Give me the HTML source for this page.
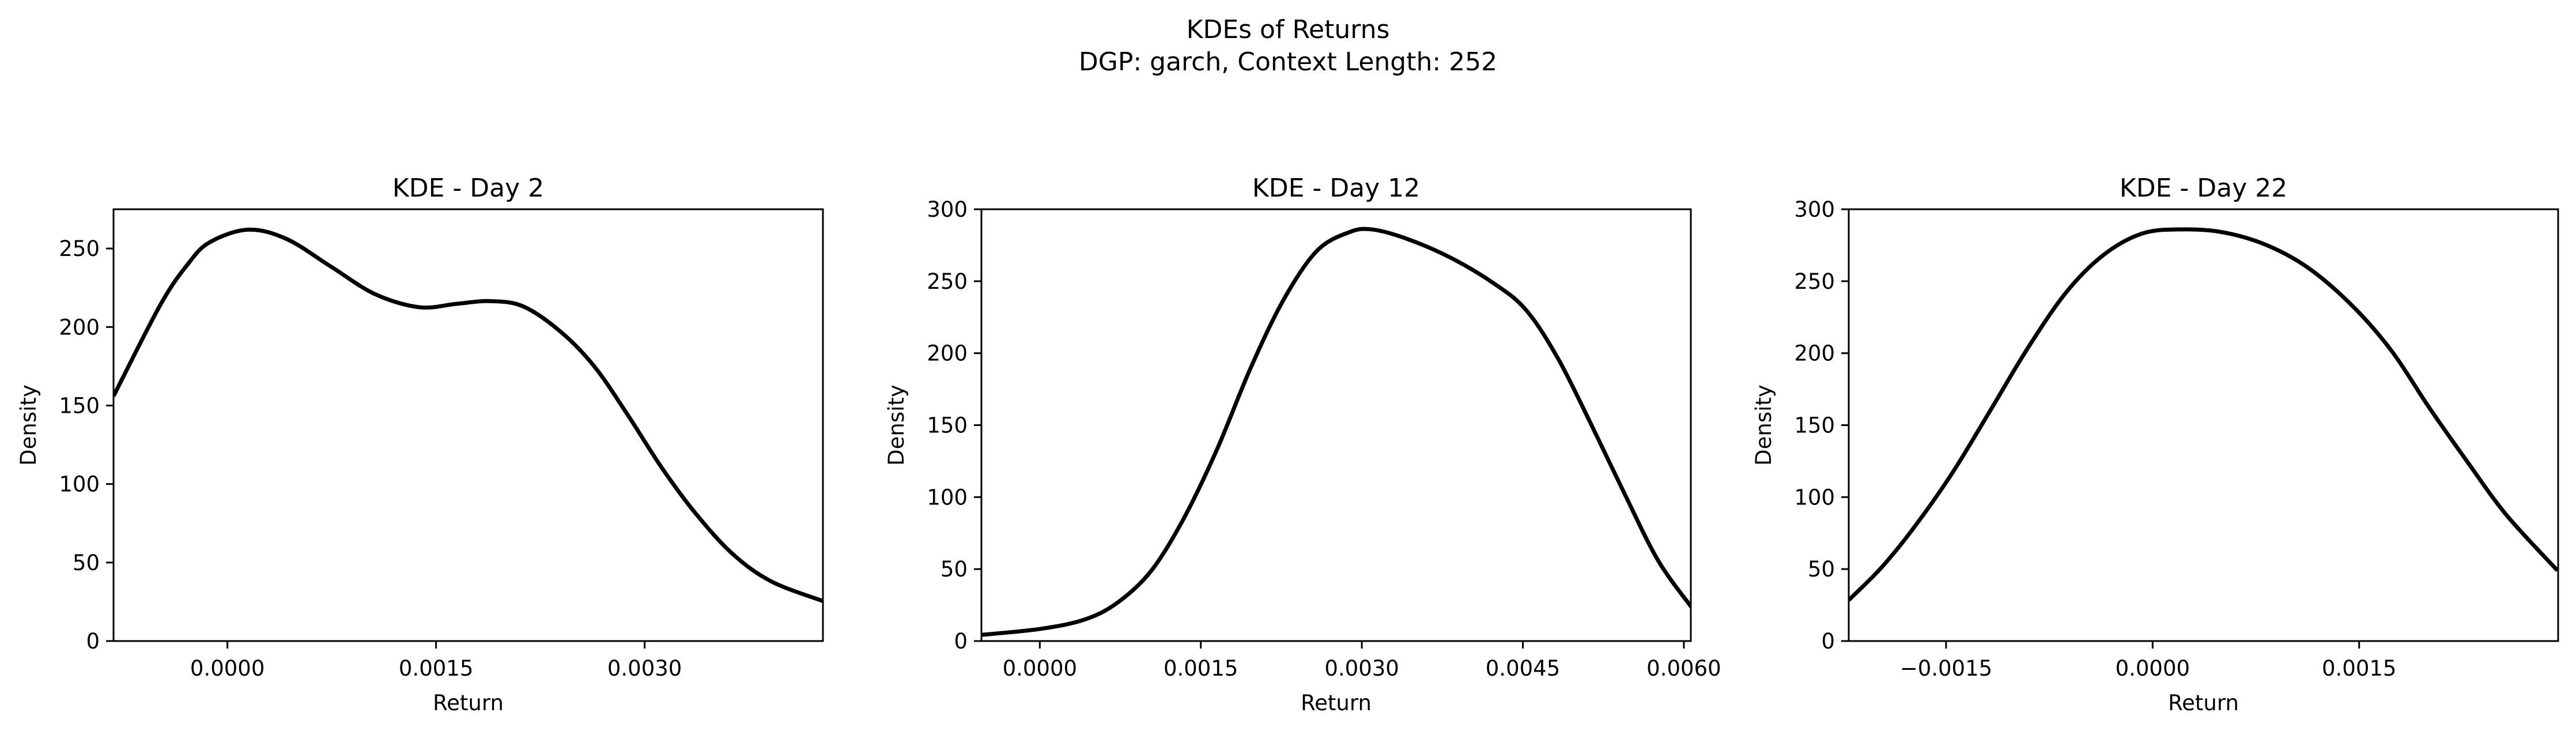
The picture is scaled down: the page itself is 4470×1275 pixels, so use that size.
<!DOCTYPE html>
<html><head><meta charset="utf-8"><style>
html,body{margin:0;padding:0;background:#fff;}
svg{display:block;font-family:"DejaVu Sans","Liberation Sans",sans-serif;}
</style></head><body>
<svg id="fig" width="4470" height="1275" viewBox="0 0 4470 1275" xmlns="http://www.w3.org/2000/svg">
<rect width="4470" height="1275" fill="#fff"/>
<text x="2235" y="66" font-size="44" text-anchor="middle">KDEs of Returns</text>
<text x="2235" y="122" font-size="44" text-anchor="middle">DGP: garch, Context Length: 252</text>
</svg>
<script>
const day2X=[-0.000819,-0.000483,-0.000285,-0.000127,0.00015,0.000427,0.000744,0.00106,0.00138,0.00165,0.00189,0.00213,0.0024,0.00264,0.00288,0.00312,0.00336,0.00363,0.00391,0.00428];
const day2Y=[156,214,240,254,262,256,238.5,221,212.6,214.8,216.5,213,196.7,174.7,143.8,110.8,82,55.7,38,25.5];
const day12X=[-0.000544,0,0.00042,0.00073,0.00104,0.00134,0.00165,0.00196,0.00227,0.00258,0.00288,0.00309,0.0034,0.00381,0.00422,0.00453,0.00483,0.00514,0.00545,0.00576,0.00607];
const day12Y=[4.3,8.4,15,27,49,85,133,189,237,271,284,286,280,267,249,230,196,150,102,56,23.6];
const day22X=[-0.002207,-0.00197,-0.00174,-0.00146,-0.00118,-0.00091,-0.00063,-0.00036,-0.00008,0.0002,0.00051,0.00083,0.00114,0.00146,0.00174,0.00201,0.00229,0.00257,0.00294];
const day22Y=[28.4,51,78,116,160,203,242,268,283,286,284,275,258.6,232,201,162,124,87.5,49];
const titles=["KDE - Day 2","KDE - Day 12","KDE - Day 22"];
const xTicks1=[0,0.0015,0.003];
const xTickLabels1=["0.0000","0.0015","0.0030"];
const xTicks2=[0,0.0015,0.003,0.0045,0.006];
const xTickLabels2=["0.0000","0.0015","0.0030","0.0045","0.0060"];
const xTicks3=[-0.0015,0,0.0015];
const xTickLabels3=["\u22120.0015","0.0000","0.0015"];
const yTicks1=[0,50,100,150,200,250];
const yTicks2=[0,50,100,150,200,250,300];

const NS="http://www.w3.org/2000/svg";
const svg=document.getElementById('fig');
function mk(tag,attrs,parent){const e=document.createElementNS(NS,tag);for(const k in attrs)e.setAttribute(k,attrs[k]);(parent||svg).appendChild(e);return e;}
const panels=[
 {l:197,r:1428,xs:day2X,ys:day2Y,xmin:-0.000819,xmax:0.004282,ymax:275,xt:xTicks1,xl:xTickLabels1,yt:yTicks1,name:'day-2'},
 {l:1703,r:2934,xs:day12X,ys:day12Y,xmin:-0.000544,xmax:0.006065,ymax:300,xt:xTicks2,xl:xTickLabels2,yt:yTicks2,name:'day-12'},
 {l:3208,r:4439,xs:day22X,ys:day22Y,xmin:-0.002207,xmax:0.002945,ymax:300,xt:xTicks3,xl:xTickLabels3,yt:yTicks2,name:'day-22'}
];
const axTop=363,axBot=1112;
panels.forEach((p,i)=>{
 const g=mk('g',{});
 
 
 const sx=v=>p.l+(v-p.xmin)/(p.xmax-p.xmin)*(p.r-p.l);
 const sy=v=>axBot-v/p.ymax*(axBot-axTop);
 const t=mk('text',{x:(p.l+p.r)/2,y:axTop-22,'font-size':44,'text-anchor':'middle'},g);
 t.textContent=titles[i];
 
 
 const pts=p.xs.map((x,k)=>[sx(x),sy(p.ys[k])]);
 let d='M'+pts[0][0]+','+pts[0][1];
 for(let k=0;k<pts.length-1;k++){
  const p0=pts[k-1]||pts[k],p1=pts[k],p2=pts[k+1],p3=pts[k+2]||p2;
  const c1=[p1[0]+(p2[0]-p0[0])/6,p1[1]+(p2[1]-p0[1])/6];
  const c2=[p2[0]-(p3[0]-p1[0])/6,p2[1]-(p3[1]-p1[1])/6];
  d+=' C'+c1[0]+','+c1[1]+' '+c2[0]+','+c2[1]+' '+p2[0]+','+p2[1];
 }
 const cp=mk('clipPath',{id:'clip'+i},g);
 mk('rect',{x:p.l,y:axTop,width:p.r-p.l,height:axBot-axTop},cp);
 const path=mk('path',{d:d,fill:'none',stroke:'#000','stroke-width':7,'clip-path':'url(#clip'+i+')'},g);
 
 
 const fr=mk('rect',{x:p.l,y:axTop,width:p.r-p.l,height:axBot-axTop,fill:'none',stroke:'#000','stroke-width':3},g);
 
 
 p.xt.forEach((v,k)=>{
  const x=sx(v);
  mk('line',{x1:x,x2:x,y1:axBot,y2:axBot+13,stroke:'#000','stroke-width':3},g);
  const tl=mk('text',{x:x,y:axBot+60,'font-size':37,'text-anchor':'middle'},g);
  tl.textContent=p.xl[k];
  
  
 });
 p.yt.forEach(v=>{
  const y=sy(v);
  mk('line',{x1:p.l-13,x2:p.l,y1:y,y2:y,stroke:'#000','stroke-width':3},g);
  const tl=mk('text',{x:p.l-24,y:y+13,'font-size':37,'text-anchor':'end'},g);
  tl.textContent=String(v);
  
  
 });
 const xl=mk('text',{x:(p.l+p.r)/2,y:1232,'font-size':37,'text-anchor':'middle'},g);
 xl.textContent='Return';
 
 
 const yx=p.l-135;
 const yl=mk('text',{x:yx,y:(axTop+axBot)/2,'font-size':37,'text-anchor':'middle',transform:'rotate(-90 '+yx+' '+((axTop+axBot)/2)+')'},g);
 yl.textContent='Density';
 
 
});
</script>
</body></html>
